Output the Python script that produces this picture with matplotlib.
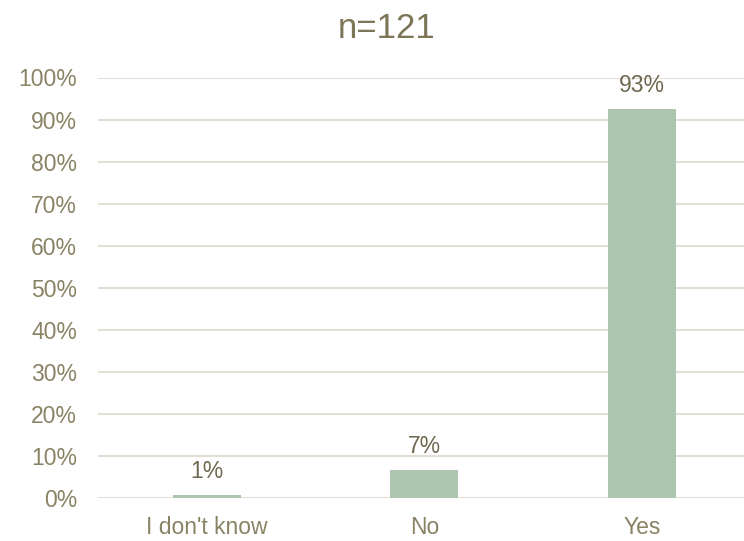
import matplotlib
matplotlib.use("Agg")
import matplotlib.pyplot as plt
from matplotlib.ticker import PercentFormatter, MultipleLocator

# Survey answers (n=121)
categories = ["I don't know", "No", "Yes"]
counts = [1, 8, 112]
total = 121
shares = [c / total for c in counts]

text_color = "#8A8264"
label_color = "#6F6850"
title_color = "#7D7557"
grid_color = "#E3DFD5"
bar_color = "#ABC5AE"

plt.rcParams["font.family"] = ["Liberation Sans", "DejaVu Sans"]

fig = plt.figure(figsize=(7.44, 5.41), dpi=100)
ax = fig.add_axes([98 / 744, 43 / 541, 652.5 / 744, 420.5 / 541])

x = range(len(categories))
bars = ax.bar(x, shares, width=0.313, color=bar_color, zorder=3)

ax.set_xlim(-0.5, len(categories) - 0.5)
ax.set_ylim(0, 1.0)
ax.yaxis.set_major_locator(MultipleLocator(0.1))
ax.yaxis.set_major_formatter(PercentFormatter(1.0, decimals=0))
ax.set_xticks(list(x))
ax.set_xticklabels(categories)

ax.grid(axis="y", color=grid_color, linewidth=1.5, zorder=0)
for s in ax.spines.values():
    s.set_visible(False)
ax.tick_params(axis="both", length=0, labelsize=16.5, labelcolor=text_color)
ax.tick_params(axis="y", pad=15)
ax.tick_params(axis="x", pad=13)

for rect, v in zip(bars, shares):
    ax.annotate(f"{v * 100:.0f}%",
                xy=(rect.get_x() + rect.get_width() / 2, v),
                xytext=(0, 12.2), textcoords="offset points",
                ha="center", va="baseline", fontsize=16.5, color=label_color)

fig.text(387 / 744, 1 - 38 / 541, "n=121", ha="center", va="baseline",
         fontsize=25, color=title_color)

fig.savefig("out.png", dpi=100)
